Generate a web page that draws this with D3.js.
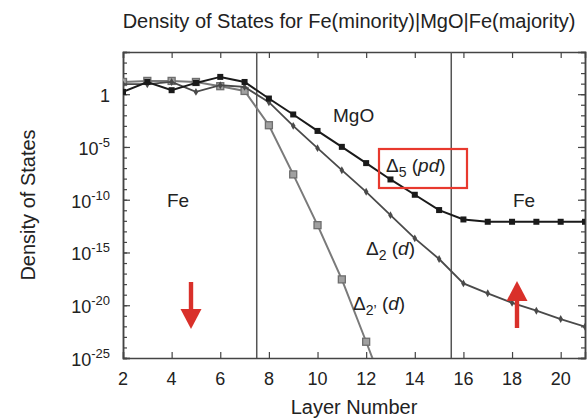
<!DOCTYPE html>
<html>
<head>
<meta charset="utf-8">
<script src="https://cdn.jsdelivr.net/npm/d3@7"></script>
<style>
  html, body { margin: 0; padding: 0; background: #fff; }
  svg { display: block; font-family: "Liberation Sans", Arial, Helvetica, sans-serif; }
</style>
</head>
<body>
<svg id="chart" width="587" height="419"></svg>
<script>
// Layer index along the Fe | MgO | Fe stack
const layers = [2, 3, 4, 5, 6, 7, 8, 9, 10, 11, 12, 13, 14, 15, 16, 17, 18, 19, 20, 21];

// log10 of the density of states per layer for each Bloch state
const delta5Exp = [0.22, 1.16, 0.38, 1.07, 1.64, 1.16, -0.41, -1.92, -3.48, -4.99, -6.53, -8.08, -9.53, -10.98, -11.87, -12.09, -12.09, -12.09, -12.09, -12.09];
const delta2Exp = [0.95, 0.95, 1.16, 0.22, 0.85, 0.69, -0.76, -3.0, -5.11, -7.2, -9.25, -11.46, -13.66, -15.62, -17.93, -18.87, -19.77, -20.52, -21.31, -22.04];
const delta2pLayers = [2, 3, 4, 5, 6, 7, 8, 9, 10, 11, 12, 13];
const delta2pExp = [1.16, 1.26, 1.26, 1.16, 0.76, 0.31, -2.94, -7.6, -12.41, -17.55, -23.46, -29.5];

// Interfaces between the Fe electrodes and the MgO barrier
const interfaces = [7.5, 15.5];

const xTicks = [2, 4, 6, 8, 10, 12, 14, 16, 18, 20];
const yTickExps = [0, -5, -10, -15, -20, -25];

const svg = d3.select("#chart");
const pLeft = 123, pRight = 585, pTop = 52, pBottom = 358;
const ink = "#222";

const x = d3.scaleLinear().domain([2, 21]).range([pLeft, pRight]);
const y = d3.scaleLog().domain([1e-25, 1e4]).range([pBottom, pTop]);

svg.append("defs").append("clipPath").attr("id", "plotClip")
  .append("rect").attr("x", pLeft).attr("y", pTop)
  .attr("width", pRight - pLeft).attr("height", pBottom - pTop);

// Title
svg.append("text").attr("x", 349).attr("y", 28)
  .attr("text-anchor", "middle").attr("font-size", 20).attr("fill", ink)
  .text("Density of States for Fe(minority)|MgO|Fe(majority)");

// Axis titles
svg.append("text").attr("x", 354).attr("y", 414)
  .attr("text-anchor", "middle").attr("font-size", 20).attr("fill", ink)
  .text("Layer Number");
svg.append("text").attr("transform", "translate(35,205) rotate(-90)")
  .attr("text-anchor", "middle").attr("font-size", 20).attr("fill", ink)
  .text("Density of States");

const axisColor = "#444";

// Bottom and top axes, ticks pointing inward
const xBottom = svg.append("g").attr("transform", `translate(0,${pBottom})`)
  .call(d3.axisBottom(x).tickValues(xTicks).tickSize(-6).tickFormat(""));
const xTop = svg.append("g").attr("transform", `translate(0,${pTop})`)
  .call(d3.axisTop(x).tickValues(xTicks).tickSize(-6).tickFormat(""));

svg.append("g").selectAll("text").data(xTicks).join("text")
  .attr("x", d => x(d)).attr("y", 385)
  .attr("text-anchor", "middle").attr("font-size", 18).attr("fill", ink)
  .text(d => d);

// Left and right axes: major ticks every 5 decades, minor every decade
const minorVals = d3.range(-25, 5).map(e => Math.pow(10, e));
const majorVals = yTickExps.map(e => Math.pow(10, e));

const yLeftMinor = svg.append("g").attr("transform", `translate(${pLeft},0)`)
  .call(d3.axisLeft(y).tickValues(minorVals).tickSize(-4).tickFormat(""));
const yLeft = svg.append("g").attr("transform", `translate(${pLeft},0)`)
  .call(d3.axisLeft(y).tickValues(majorVals).tickSize(-7).tickFormat(""));
const yRightMinor = svg.append("g").attr("transform", `translate(${pRight},0)`)
  .call(d3.axisRight(y).tickValues(minorVals).tickSize(-4).tickFormat(""));
const yRight = svg.append("g").attr("transform", `translate(${pRight},0)`)
  .call(d3.axisRight(y).tickValues(majorVals).tickSize(-7).tickFormat(""));

[xBottom, xTop, yLeftMinor, yLeft, yRightMinor, yRight].forEach(g => {
  g.select(".domain").attr("stroke", axisColor).attr("stroke-width", 1.5);
  g.selectAll(".tick line").attr("stroke", axisColor).attr("stroke-width", 1.2);
});

// y tick labels as 1 and 10 with superscript exponents
const yLabels = svg.append("g");
yTickExps.forEach(e => {
  const t = yLabels.append("text")
    .attr("x", 110).attr("y", y(Math.pow(10, e)) + 8)
    .attr("text-anchor", "end").attr("font-size", 18).attr("fill", ink);
  if (e === 0) {
    t.text("1");
  } else {
    t.append("tspan").text("10");
    t.append("tspan").attr("font-size", 13).attr("dy", -8).text(String(e));
  }
});

// Interface lines
svg.append("g").selectAll("line").data(interfaces).join("line")
  .attr("x1", d => x(d)).attr("x2", d => x(d))
  .attr("y1", pTop).attr("y2", pBottom)
  .attr("stroke", "#555").attr("stroke-width", 1.5);

const plot = svg.append("g").attr("clip-path", "url(#plotClip)");
const line = d3.line().x(d => x(d[0])).y(d => y(Math.pow(10, d[1])));

const d2p = delta2pLayers.map((l, i) => [l, delta2pExp[i]]);
const d2 = layers.map((l, i) => [l, delta2Exp[i]]);
const d5 = layers.map((l, i) => [l, delta5Exp[i]]);

// Δ2' (d)
plot.append("path").datum(d2p).attr("d", line)
  .attr("fill", "none").attr("stroke", "#7a7a7a").attr("stroke-width", 2);
plot.append("g").selectAll("rect").data(d2p).join("rect")
  .attr("x", d => x(d[0]) - 3.5).attr("y", d => y(Math.pow(10, d[1])) - 3.5)
  .attr("width", 7).attr("height", 7)
  .attr("fill", "#a0a0a0").attr("stroke", "#6e6e6e").attr("stroke-width", 1.3);

// Δ2 (d)
plot.append("path").datum(d2).attr("d", line)
  .attr("fill", "none").attr("stroke", "#4a4a4a").attr("stroke-width", 1.8);
plot.append("g").selectAll("path").data(d2).join("path")
  .attr("transform", d => `translate(${x(d[0])},${y(Math.pow(10, d[1]))})`)
  .attr("d", d3.symbol(d3.symbolDiamond, 18))
  .attr("fill", "#4a4a4a");

// Δ5 (pd)
plot.append("path").datum(d5).attr("d", line)
  .attr("fill", "none").attr("stroke", "#1a1a1a").attr("stroke-width", 2);
plot.append("g").selectAll("rect").data(d5).join("rect")
  .attr("x", d => x(d[0]) - 3).attr("y", d => y(Math.pow(10, d[1])) - 3)
  .attr("width", 6).attr("height", 6)
  .attr("fill", "#1a1a1a");

// Region and state labels
const label = (tx, ty, txt) => svg.append("text").attr("x", tx).attr("y", ty)
  .attr("font-size", 19).attr("fill", ink).text(txt);
label(167, 207, "Fe");
label(513, 207, "Fe");
label(333, 122, "MgO");

function stateLabel(tx, ty, sub, arg) {
  const t = svg.append("text").attr("x", tx).attr("y", ty)
    .attr("font-size", 19).attr("fill", ink);
  t.append("tspan").text("Δ");
  t.append("tspan").attr("font-size", 14).attr("dy", 5).text(sub);
  t.append("tspan").attr("dy", -5).text(" (");
  t.append("tspan").attr("font-style", "italic").text(arg);
  t.append("tspan").text(")");
}
stateLabel(386, 172, "5", "pd");
stateLabel(366, 255, "2", "d");
stateLabel(353, 310, "2\u2019", "d");

// Highlight box around the Δ5 label
svg.append("rect").attr("x", 379).attr("y", 149)
  .attr("width", 88).attr("height", 39)
  .attr("fill", "none").attr("stroke", "#e8392e").attr("stroke-width", 2.2);

// Spin arrows: minority (down) and majority (up)
const red = "#d9302a";
function arrow(cx, tipY, tailY) {
  const dir = tailY > tipY ? 1 : -1;
  const headLen = 20, headHalf = 10.5, shaft = 2.2;
  const baseY = tipY + dir * headLen;
  svg.append("rect").attr("x", cx - shaft).attr("width", shaft * 2)
    .attr("y", Math.min(baseY, tailY)).attr("height", Math.abs(tailY - baseY))
    .attr("fill", red);
  svg.append("path")
    .attr("d", `M${cx},${tipY} L${cx - headHalf},${baseY} L${cx + headHalf},${baseY} Z`)
    .attr("fill", red);
}
arrow(191, 329, 282);
arrow(517, 281, 328);
</script>
</body>
</html>
